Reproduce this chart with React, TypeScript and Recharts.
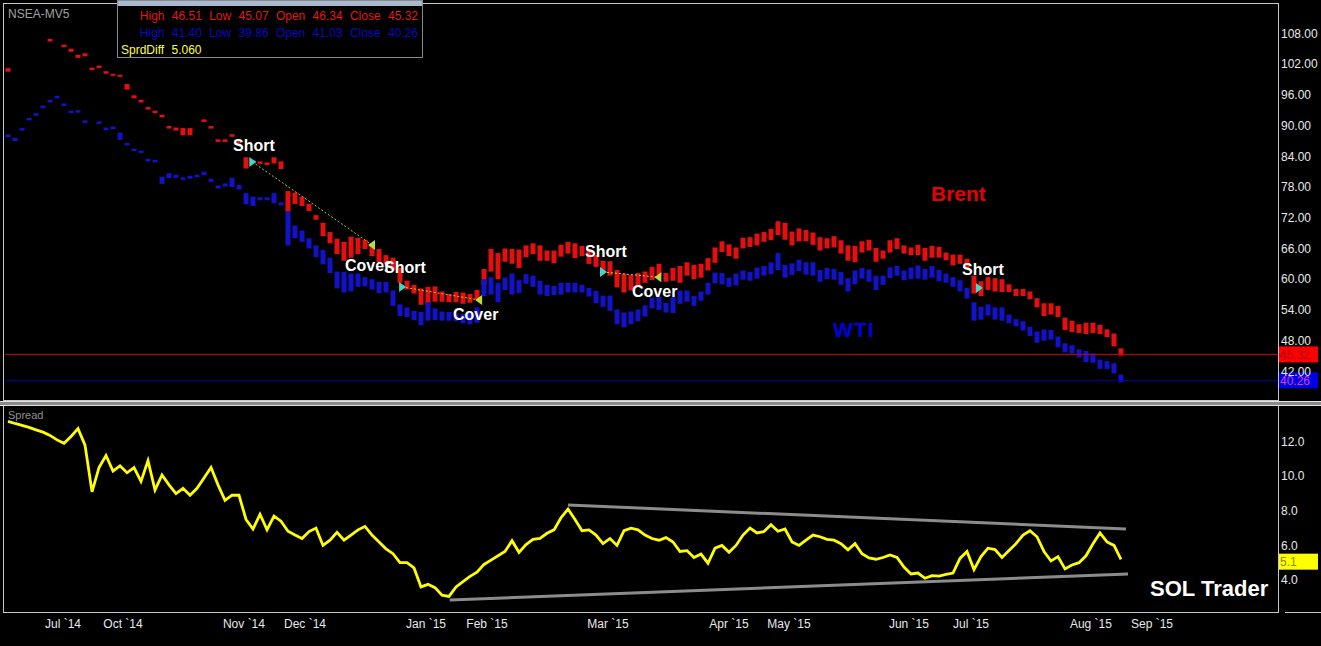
import React from 'react';
import { ComposedChart, Bar, Line, XAxis, YAxis, ReferenceLine, ReferenceDot } from 'recharts';

// Brent / WTI daily high-low (NSEA-MV5), one entry per bar
const brentHigh = [
  101.2, null, null, null, null, null, 106.9, null, 105.8, 105.0,
  103.8, 104.1, 101.3, 101.7, 100.6, 100.1, 99.9, 98.1, 95.9, 95.0,
  93.6, 92.9, 92.1, 89.9, 89.6, 89.5, 89.5, null, 91.2, 89.9,
  87.3, 87.3, 88.3, 87.0, 83.8, 83.2, 83.0, 82.8, 83.8, 83.0,
  77.2, 76.9, 76.1, 74.7, 72.5, 71.0, 69.2, 67.9, 67.3, 68.3,
  68.1, 67.7, 66.8, 65.9, 64.7, 64.2, 62.2, 59.7, 58.9, 58.2,
  58.5, 58.6, 57.6, 57.1, 57.5, 57.4, 57.1, 57.9, 62.0, 65.9,
  65.1, 66.0, 65.9, 65.8, 66.6, 67.0, 66.6, 65.6, 65.6, 66.7,
  67.3, 67.0, 66.5, 65.9, 64.7, 63.6, 63.5, 61.8, 61.1, 60.8,
  61.2, 61.5, 62.4, 63.0, 61.2, 62.2, 62.6, 63.3, 62.8, 63.0,
  64.1, 66.2, 67.4, 66.8, 66.2, 68.1, 68.2, 68.9, 69.2, 69.8,
  71.3, 71.0, 69.3, 69.9, 69.6, 69.1, 68.2, 68.0, 68.4, 67.6,
  66.6, 66.5, 67.4, 67.7, 66.1, 65.6, 67.6, 68.0, 66.6, 66.2,
  66.7, 66.1, 66.5, 66.3, 65.2, 64.8, 64.8, 64.0, 60.7, 59.6,
  60.4, 60.2, 60.0, 59.0, 58.1, 58.1, 57.6, 56.3, 55.3, 55.3,
  54.8, 52.5, 51.9, 51.2, 51.5, 51.5, 51.1, 50.2, 49.4, 46.51,
];
const brentLow = [
  100.5, null, null, null, null, null, 106.4, null, 105.3, 104.4,
  103.2, 103.5, 100.8, 101.2, 100.1, 99.7, 99.5, 97.0, 95.3, 94.5,
  93.1, 92.4, 91.6, 89.4, 89.0, 88.1, 88.1, null, 90.7, 89.4,
  86.8, 86.8, 87.8, 86.5, 81.6, 82.6, 82.5, 82.3, 82.6, 81.5,
  73.2, 74.7, 74.3, 73.3, 71.6, 68.4, 67.0, 64.9, 63.6, 64.2,
  64.9, 65.9, 64.5, 63.3, 63.0, 61.8, 59.3, 58.0, 57.2, 55.0,
  55.0, 55.6, 55.6, 55.5, 55.5, 55.2, 55.4, 56.0, 58.9, 61.5,
  60.0, 63.4, 63.0, 62.2, 64.3, 64.9, 63.6, 63.6, 63.1, 64.4,
  65.0, 64.1, 64.5, 63.0, 62.4, 61.4, 60.7, 58.4, 57.4, 57.8,
  58.6, 59.3, 59.8, 60.7, 59.5, 59.7, 59.3, 60.7, 60.0, 60.3,
  61.7, 63.2, 65.3, 64.5, 64.0, 66.0, 66.3, 66.6, 67.3, 67.6,
  68.6, 67.7, 66.6, 67.4, 67.4, 66.7, 65.6, 66.0, 66.2, 65.0,
  63.6, 63.3, 65.2, 65.6, 63.4, 64.0, 65.2, 65.9, 65.0, 64.7,
  64.7, 63.6, 64.2, 64.2, 63.7, 62.7, 63.0, 62.0, 57.2, 56.7,
  57.9, 57.6, 57.5, 57.5, 56.7, 56.7, 56.1, 54.5, 52.8, 53.1,
  52.6, 50.1, 49.7, 49.5, 49.3, 49.5, 49.3, 48.7, 46.9, 45.07,
];
const wtiHigh = [
  88.3, 87.6, 89.5, 91.5, 92.4, 93.9, 95.0, 95.8, 94.3, 92.9,
  93.0, 91.0, null, 90.8, 89.6, 89.8, 88.6, 86.6, 85.5, 85.1,
  83.5, 83.3, 80.0, 80.7, 80.4, 79.9, 80.2, 80.4, 81.0, 79.6,
  78.3, 78.7, 79.8, 78.4, 76.8, 76.1, 76.0, 76.0, 76.8, 75.0,
  73.2, 70.5, 69.5, 68.0, 66.6, 65.7, 64.2, 61.5, 61.4, 61.1,
  61.1, 60.4, 60.0, 59.5, 59.5, 57.8, 55.1, 54.5, 53.8, 53.6,
  55.5, 54.3, 53.7, 53.6, 53.3, 53.2, 53.4, 54.5, 60.0, 60.4,
  59.3, 60.3, 61.1, 59.8, 61.0, 60.7, 59.7, 58.9, 58.7, 59.3,
  59.3, 59.3, 58.9, 58.3, 57.7, 56.8, 56.8, 54.1, 53.5, 53.7,
  54.1, 54.9, 56.4, 56.6, 55.4, 56.5, 57.8, 57.8, 56.7, 57.6,
  59.3, 61.3, 61.2, 60.3, 61.1, 61.7, 61.4, 62.3, 62.6, 63.3,
  65.1, 62.8, 63.1, 63.8, 63.3, 63.3, 61.8, 62.2, 62.0, 61.4,
  60.2, 61.7, 62.2, 61.9, 60.7, 60.7, 62.3, 62.6, 61.7, 62.3,
  62.7, 62.0, 62.6, 61.8, 61.1, 60.4, 59.8, 58.3, 55.5, 54.6,
  55.1, 54.5, 54.5, 53.1, 52.2, 51.8, 50.7, 49.8, 50.2, 50.1,
  48.8, 47.5, 47.1, 46.3, 46.0, 45.5, 44.3, 44.0, 43.6, 41.40,
];
const wtiLow = [
  87.7, 87.0, 89.0, 91.0, 91.9, 93.4, 94.5, 95.3, 93.8, 92.4,
  92.5, 90.5, null, 90.3, 89.1, 89.3, 87.2, 86.1, 85.0, 84.6,
  83.0, 82.8, 78.6, 79.7, 79.8, 79.4, 79.6, 79.9, 80.3, 79.0,
  77.7, 78.1, 78.0, 77.5, 74.6, 74.3, 75.4, 75.4, 74.8, 74.4,
  66.6, 68.0, 67.3, 66.0, 64.3, 62.9, 61.2, 58.2, 57.4, 57.6,
  58.5, 58.6, 58.0, 57.3, 57.4, 54.8, 52.8, 52.6, 52.0, 51.0,
  51.9, 52.0, 51.9, 51.9, 51.8, 51.4, 51.2, 51.5, 56.7, 57.0,
  55.5, 57.9, 57.0, 57.3, 59.1, 58.5, 57.0, 56.7, 56.9, 57.0,
  57.4, 57.4, 57.4, 56.6, 55.3, 54.6, 53.8, 51.2, 50.6, 51.2,
  51.8, 52.7, 54.3, 54.0, 53.5, 53.4, 55.2, 55.6, 54.8, 55.8,
  57.0, 59.2, 59.0, 58.5, 58.8, 59.9, 59.7, 60.1, 60.7, 61.0,
  61.8, 60.3, 60.8, 61.6, 60.9, 60.7, 59.5, 60.0, 59.9, 58.9,
  57.6, 59.0, 60.1, 59.5, 57.9, 58.9, 60.2, 60.7, 59.8, 60.0,
  60.1, 59.9, 60.3, 59.6, 59.3, 58.5, 57.6, 56.2, 51.9, 52.1,
  52.9, 52.1, 51.9, 51.4, 50.8, 50.0, 48.9, 47.6, 48.0, 48.2,
  46.7, 45.7, 45.5, 44.7, 43.8, 43.7, 42.5, 42.5, 41.6, 39.86,
];
// Brent - WTI spread
const spread = [
  13.17, 13.05, 12.94, 12.82, 12.68, 12.55, 12.36, 12.1, 11.9, 12.3,
  12.75, 11.8, 9.1, 10.5, 11.2, 10.3, 10.6, 10.2, 10.5, 9.7,
  10.9, 9.2, 10.07, 9.5, 9.0, 9.3, 8.9, 9.3, 9.9, 10.5,
  9.5, 8.6, 8.9, 8.9, 7.5, 6.95, 7.8, 6.9, 7.7, 7.4,
  6.82, 6.6, 6.4, 6.8, 7.0, 6.0, 6.3, 6.75, 6.3, 6.6,
  6.9, 7.1, 6.6, 6.2, 5.8, 5.52, 5.0, 5.0, 4.7, 3.6,
  3.75, 3.56, 3.12, 3.05, 3.6, 3.9, 4.21, 4.45, 4.9, 5.15,
  5.4, 5.65, 6.27, 5.6, 6.05, 6.35, 6.4, 6.7, 6.9, 7.6,
  8.1, 7.5, 6.85, 6.9, 6.6, 6.1, 6.4, 6.0, 6.85, 7.0,
  6.9, 6.6, 6.4, 6.3, 6.45, 6.2, 5.65, 5.7, 5.3, 5.5,
  4.97, 5.84, 6.0, 5.6, 6.0, 6.6, 7.0, 6.72, 6.8, 7.2,
  6.82, 6.95, 6.2, 6.0, 6.3, 6.6, 6.5, 6.35, 6.3, 6.1,
  5.74, 6.1, 5.52, 5.28, 5.2, 5.3, 5.45, 5.3, 4.75, 4.35,
  4.4, 4.1, 4.25, 4.22, 4.32, 4.4, 5.25, 5.65, 4.6, 5.35,
  5.84, 5.76, 5.3, 5.7, 6.1, 6.6, 6.85, 6.5, 5.65, 5.1,
  5.35, 4.64, 4.87, 5.0, 5.4, 6.1, 6.72, 6.2, 6.0, 5.19,
];

const monthTicks = [7.86, 16.43, 33.71, 42.43, 59.71, 68.43, 85.71, 103.0, 111.57, 128.71, 137.57, 154.71, 163.43];
const monthLabels = ['Jul `14', 'Oct `14', 'Nov `14', 'Dec `14', 'Jan `15', 'Feb `15', 'Mar `15', 'Apr `15', 'May `15', 'Jun `15', 'Jul `15', 'Aug `15', 'Sep `15'];
const priceTicks = [42, 48, 54, 60, 66, 72, 78, 84, 90, 96, 102, 108];
const spreadTicks = [4, 6, 8, 10, 12];

// trades: short entries and covers
const shortIdx = [34.9, 56.3, 85.0, 138.7];
const shortPx = [82.9, 58.5, 61.4, 58.3];
const coverIdx = [52.0, 67.3, 92.9];
const coverPx = [66.7, 55.95, 60.4];
const tradeColors = ['#9acd32', '#d8c800', '#c8d850'];

// spread channel lines
const channelUpper = [{ x: 80, y: 8.34 }, { x: 159.7, y: 6.95 }];
const channelLower = [{ x: 63.1, y: 2.84 }, { x: 160, y: 4.35 }];

const brentLast = { high: 46.51, low: 45.07, open: 46.34, close: 45.32 };
const wtiLast = { high: 41.4, low: 39.86, open: 41.03, close: 40.26 };
const sprdDiff = 5.06;

const X_DOMAIN: [number, number] = [-0.43, 181.43];

const rows = brentHigh.map((h, i) => ({
  i,
  brent: h == null || brentLow[i] == null ? null : [brentLow[i], h],
  wti: wtiHigh[i] == null || wtiLow[i] == null ? null : [wtiLow[i], wtiHigh[i]],
  spread: spread[i],
}));

const Tag = (props: any) => {
  const { viewBox, text, bg, fg } = props;
  if (!viewBox) return null;
  const x = viewBox.x + viewBox.width;
  const y = viewBox.y;
  return (
    <g>
      <rect x={x} y={y - 8} width={40} height={16} fill={bg} />
      <text x={x + 2} y={y + 4.5} fill={fg} fontSize={12}>{text}</text>
    </g>
  );
};

const Tri = (props: any) => {
  const { cx, cy, dir, color } = props;
  if (cx == null || cy == null) return null;
  const pts = dir > 0
    ? `${cx - 3},${cy - 5} ${cx + 4},${cy} ${cx - 3},${cy + 5}`
    : `${cx + 3},${cy - 5} ${cx - 4},${cy} ${cx + 3},${cy + 5}`;
  return <polygon points={pts} fill={color} />;
};

const axisTick = { fill: '#e8e8e8', fontSize: 12 };

const note = (t: string, x: number, y: number, extra: any = {}) => (
  <div
    style={{
      position: 'absolute', left: x, top: y - 8, fontSize: 16, lineHeight: '16px',
      fontWeight: 'bold', color: '#fff', whiteSpace: 'nowrap', ...extra,
    }}
  >
    {t}
  </div>
);

export default function App() {
  return (
    <div
      style={{
        position: 'relative', width: 1321, height: 646, background: '#000', overflow: 'hidden',
        fontFamily: 'Arial, "Liberation Sans", Helvetica, sans-serif',
      }}
    >
      <style>{'body{margin:0;background:#000}'}</style>

      <div style={{ position: 'absolute', left: 0, top: 0 }}>
        <ComposedChart width={1321} height={401} data={rows} margin={{ top: 4, right: 0, bottom: 1, left: 5 }} barGap={-5}>
          <XAxis type="number" dataKey="i" domain={X_DOMAIN} allowDataOverflow hide />
          <YAxis
            orientation="right" width={43} domain={[36.42, 113.72]} allowDataOverflow
            ticks={priceTicks} interval={0} tickFormatter={(v: number) => v.toFixed(2)}
            axisLine={false} tickLine={false} tickSize={0} tickMargin={3} tick={axisTick}
          />
          <ReferenceLine y={brentLast.close} stroke="#d00000" strokeWidth={1}
            label={<Tag text={brentLast.close.toFixed(2)} bg="#ff0000" fg="#b00000" />} />
          <ReferenceLine y={wtiLast.close} stroke="#0000b4" strokeWidth={1}
            label={<Tag text={wtiLast.close.toFixed(2)} bg="#0000e6" fg="#d040d0" />} />
          <Bar dataKey="brent" fill="#e41010" barSize={5} isAnimationActive={false} />
          <Bar dataKey="wti" fill="#1212c8" barSize={5} isAnimationActive={false} />
          {coverIdx.map((cx, k) => (
            <ReferenceLine key={'tl' + k}
              segment={[{ x: shortIdx[k], y: shortPx[k] }, { x: cx, y: coverPx[k] }]}
              stroke={tradeColors[k]} strokeWidth={1} strokeDasharray="2 2" />
          ))}
          {shortIdx.map((sx, k) => (
            <ReferenceDot key={'s' + k} x={sx} y={shortPx[k]} r={5}
              shape={(p: any) => <Tri {...p} dir={1} color="#40d8c8" />} />
          ))}
          {coverIdx.map((cx, k) => (
            <ReferenceDot key={'c' + k} x={cx} y={coverPx[k]} r={5}
              shape={(p: any) => <Tri {...p} dir={-1} color="#b4e040" />} />
          ))}
        </ComposedChart>
      </div>

      <div style={{ position: 'absolute', left: 0, top: 401 }}>
        <ComposedChart width={1321} height={245} data={rows} margin={{ top: 5, right: 0, bottom: 0, left: 5 }}>
          <XAxis
            type="number" dataKey="i" domain={X_DOMAIN} allowDataOverflow height={34}
            ticks={monthTicks} interval={0} tickFormatter={(v: number, idx: number) => monthLabels[idx] ?? ''}
            axisLine={false} tickLine={false} tickSize={0} tickMargin={7} tick={axisTick}
          />
          <YAxis
            orientation="right" width={43} domain={[2.15, 14.06]} allowDataOverflow
            ticks={spreadTicks} interval={0} tickFormatter={(v: number) => v.toFixed(1)}
            axisLine={false} tickLine={false} tickSize={0} tickMargin={3} tick={axisTick}
          />
          <ReferenceLine segment={channelUpper} stroke="#8c8c8c" strokeWidth={3} />
          <ReferenceLine segment={channelLower} stroke="#8c8c8c" strokeWidth={3} />
          <ReferenceLine y={sprdDiff} stroke="none"
            label={<Tag text={sprdDiff.toFixed(1)} bg="#ffff00" fg="#8a8a00" />} />
          <Line dataKey="spread" type="linear" stroke="#ffff00" strokeWidth={2.8} dot={false}
            isAnimationActive={false} connectNulls />
        </ComposedChart>
      </div>

      {/* panel frames */}
      <div style={{ position: 'absolute', left: 3, top: 3, width: 1276, height: 398, border: '1px solid #c8c8c8', boxSizing: 'border-box' }} />
      <div style={{ position: 'absolute', left: 0, top: 401, width: 1321, height: 5, background: '#8a8a8a', borderTop: '1px solid #e0e0e0', borderBottom: '1px solid #e0e0e0', boxSizing: 'border-box' }} />
      <div style={{ position: 'absolute', left: 3, top: 406, width: 1276, height: 207, borderLeft: '1px solid #c8c8c8', borderRight: '1px solid #c8c8c8', borderBottom: '1px solid #c8c8c8', boxSizing: 'border-box' }} />
      <div style={{ position: 'absolute', left: 1285, top: 612, width: 36, height: 1, background: '#c8c8c8' }} />

      <div style={{ position: 'absolute', left: 8, top: 7, fontSize: 12, lineHeight: '14px', color: '#a0a0a0' }}>NSEA-MV5</div>
      <div style={{ position: 'absolute', left: 8, top: 409, fontSize: 11, lineHeight: '13px', color: '#909090' }}>Spread</div>

      {/* data window */}
      <div style={{ position: 'absolute', left: 117, top: 0, width: 306, height: 58, border: '1px solid #8a8a8a', background: '#000', boxSizing: 'border-box', fontSize: 12, lineHeight: '14px', whiteSpace: 'pre', wordSpacing: 4 }}>
        <div style={{ height: 5, background: '#a9b9cf' }} />
        <div style={{ position: 'absolute', right: 4, top: 8, color: '#e01818' }}>
          {`High ${brentLast.high.toFixed(2)} Low ${brentLast.low.toFixed(2)} Open ${brentLast.open.toFixed(2)} Close ${brentLast.close.toFixed(2)}`}
        </div>
        <div style={{ position: 'absolute', right: 4, top: 25, color: '#0a0ac0' }}>
          {`High ${wtiLast.high.toFixed(2)} Low ${wtiLast.low.toFixed(2)} Open ${wtiLast.open.toFixed(2)} Close ${wtiLast.close.toFixed(2)}`}
        </div>
        <div style={{ position: 'absolute', left: 3, top: 42, color: '#ffff40' }}>{`SprdDiff ${sprdDiff.toFixed(3)}`}</div>
      </div>

      {note('Short', 233, 146)}
      {note('Cover', 345, 266)}
      {note('Short', 384, 268)}
      {note('Cover', 453, 315)}
      {note('Short', 585, 252)}
      {note('Cover', 632, 292)}
      {note('Short', 962, 270)}
      {note('Brent', 931, 193, { fontSize: 21, lineHeight: '21px', top: 183, color: '#e80000' })}
      {note('WTI', 833, 329, { fontSize: 21, lineHeight: '21px', top: 319, color: '#0000e0', letterSpacing: 1 })}
      {note('SOL Trader', 1150, 589, { fontSize: 22, lineHeight: '22px', top: 578 })}
    </div>
  );
}
